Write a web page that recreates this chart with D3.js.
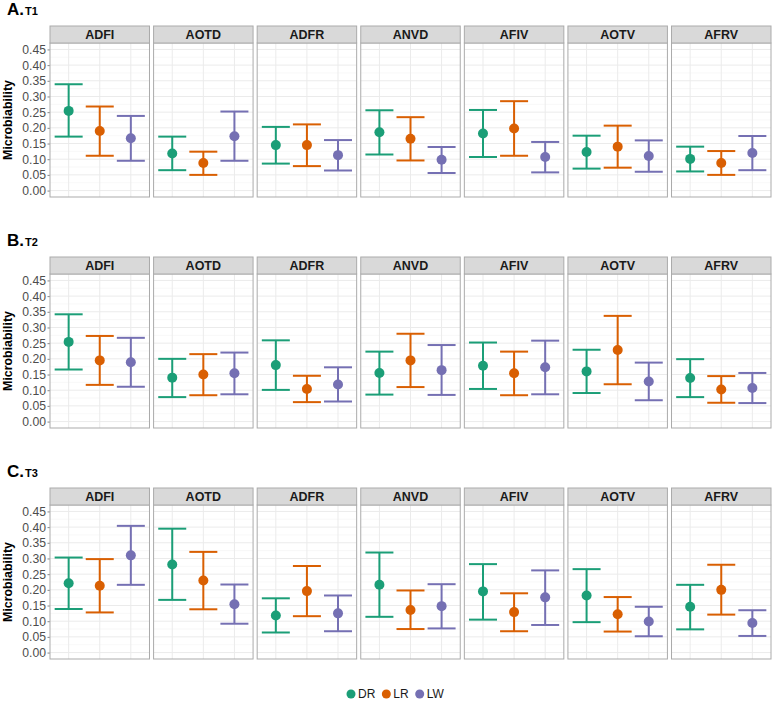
<!DOCTYPE html>
<html>
<head>
<meta charset="utf-8">
<script src="https://cdn.jsdelivr.net/npm/d3@7"></script>
<style>
  html, body { margin: 0; padding: 0; background: #fff; }
  svg { display: block; font-family: "Liberation Sans", Arial, Helvetica, sans-serif; }
</style>
</head>
<body>
<svg id="chart" width="777" height="706"></svg>
<script>
// ---------------- DATA ----------------
const traits = ["ADFI", "AOTD", "ADFR", "ANVD", "AFIV", "AOTV", "AFRV"];
const groups = ["DR", "LR", "LW"];
const timeLabels = ["A.", "B.", "C."];
const timeNames = ["T1", "T2", "T3"];
const yTicks = [0.00, 0.05, 0.10, 0.15, 0.20, 0.25, 0.30, 0.35, 0.40, 0.45];
const groupColors = ["#1B9E77", "#D95F02", "#7570B3"];

// per trait: [DR, LR, LW]
const T1_mean  = [[0.254,0.190,0.167],[0.118,0.088,0.173],[0.145,0.145,0.113],[0.186,0.165,0.098],[0.182,0.198,0.107],[0.123,0.140,0.110],[0.101,0.088,0.120]];
const T1_lower = [[0.172,0.111,0.095],[0.065,0.050,0.095],[0.086,0.078,0.064],[0.115,0.096,0.056],[0.107,0.111,0.058],[0.070,0.073,0.060],[0.061,0.050,0.065]];
const T1_upper = [[0.339,0.268,0.238],[0.172,0.124,0.252],[0.203,0.211,0.161],[0.256,0.234,0.139],[0.257,0.285,0.155],[0.175,0.207,0.160],[0.140,0.126,0.174]];

const T2_mean  = [[0.254,0.195,0.189],[0.140,0.150,0.154],[0.180,0.104,0.118],[0.155,0.195,0.164],[0.178,0.154,0.173],[0.160,0.228,0.128],[0.139,0.102,0.107]];
const T2_lower = [[0.166,0.117,0.111],[0.078,0.084,0.087],[0.101,0.062,0.064],[0.086,0.110,0.085],[0.104,0.084,0.087],[0.091,0.119,0.068],[0.078,0.060,0.059]];
const T2_upper = [[0.342,0.273,0.267],[0.200,0.215,0.220],[0.259,0.146,0.173],[0.223,0.280,0.244],[0.252,0.223,0.258],[0.229,0.337,0.188],[0.199,0.145,0.155]];

const T3_mean  = [[0.221,0.213,0.310],[0.281,0.230,0.154],[0.118,0.196,0.125],[0.216,0.136,0.148],[0.195,0.129,0.176],[0.182,0.122,0.099],[0.146,0.200,0.094]];
const T3_lower = [[0.139,0.128,0.216],[0.168,0.138,0.092],[0.064,0.116,0.068],[0.114,0.075,0.077],[0.105,0.068,0.088],[0.097,0.067,0.052],[0.074,0.121,0.053]];
const T3_upper = [[0.303,0.298,0.404],[0.395,0.321,0.217],[0.173,0.276,0.182],[0.319,0.198,0.218],[0.282,0.189,0.262],[0.266,0.177,0.146],[0.216,0.280,0.135]];

const means  = [T1_mean, T2_mean, T3_mean];
const lowers = [T1_lower, T2_lower, T3_lower];
const uppers = [T1_upper, T2_upper, T3_upper];

// ---------------- LAYOUT ----------------
const svg = d3.select("#chart");
const left = 50, right = 771, gap = 4.1;
const nP = traits.length;
const pw = (right - left - gap * (nP - 1)) / nP;
const stripH = 17, panelH = 154;
const rowTop0 = 26, rowStep = 231;

// ggplot discrete expand: positions at 0.6,1.6,2.6 on a [0,3.2] axis
const x = d3.scalePoint().domain(groups).range([0, pw]).padding(0.6);
const capW = 28;

const borderCol = "#ababab";

for (let r = 0; r < 3; r++) {
  const stripTop = rowTop0 + r * rowStep;
  const pTop = stripTop + stripH;
  const pBot = pTop + panelH;
  const y = d3.scaleLinear().domain([-0.0205, 0.4705]).range([pBot, pTop]);

  // title
  const t = svg.append("text")
    .attr("x", 7).attr("y", stripTop - 11)
    .attr("font-weight", "bold").attr("fill", "#000");
  t.append("tspan").attr("font-size", 17).text(timeLabels[r]);
  t.append("tspan").attr("font-size", 11).attr("dx", 1).text(timeNames[r]);

  // y axis label
  svg.append("text")
    .attr("transform", `translate(${11.5},${(pTop + pBot) / 2}) rotate(-90)`)
    .attr("text-anchor", "middle")
    .attr("font-size", 12.4).attr("font-weight", "bold").attr("fill", "#000")
    .text("Microbiability");

  // y axis ticks
  const yAxis = d3.axisLeft(y).tickValues(yTicks).tickFormat(d3.format(".2f")).tickSize(2.5).tickPadding(1.5);
  const ga = svg.append("g").attr("transform", `translate(${left},0)`).call(yAxis);
  ga.select(".domain").remove();
  ga.selectAll(".tick line").attr("stroke", "#333").attr("stroke-width", 0.6);
  ga.selectAll(".tick text").attr("fill", "#4d4d4d").attr("font-size", 12.2)
    .attr("font-family", "'Liberation Sans', Arial, sans-serif");

  traits.forEach((tr, i) => {
    const px = left + i * (pw + gap);
    const g = svg.append("g").attr("transform", `translate(${px},0)`);

    // panel background
    g.append("rect").attr("x", 0).attr("y", pTop).attr("width", pw).attr("height", panelH).attr("fill", "#fff");

    // minor grid
    const minor = d3.range(0.025, 0.47, 0.05);
    g.selectAll(".minor").data(minor).join("line")
      .attr("x1", 0).attr("x2", pw)
      .attr("y1", d => y(d)).attr("y2", d => y(d))
      .attr("stroke", "#f4f4f4").attr("stroke-width", 0.6);
    // major grid
    g.selectAll(".major").data(yTicks).join("line")
      .attr("x1", 0).attr("x2", pw)
      .attr("y1", d => y(d)).attr("y2", d => y(d))
      .attr("stroke", "#ebebeb").attr("stroke-width", 1);
    g.selectAll(".vmajor").data(groups).join("line")
      .attr("x1", d => x(d)).attr("x2", d => x(d))
      .attr("y1", pTop).attr("y2", pBot)
      .attr("stroke", "#ebebeb").attr("stroke-width", 1);

    // error bars
    groups.forEach((gr, k) => {
      const cx = x(gr);
      const col = groupColors[k];
      const lo = lowers[r][i][k], hi = uppers[r][i][k], m = means[r][i][k];
      g.append("line").attr("x1", cx).attr("x2", cx).attr("y1", y(lo)).attr("y2", y(hi))
        .attr("stroke", col).attr("stroke-width", 2);
      g.append("line").attr("x1", cx - capW / 2).attr("x2", cx + capW / 2).attr("y1", y(lo)).attr("y2", y(lo))
        .attr("stroke", col).attr("stroke-width", 2);
      g.append("line").attr("x1", cx - capW / 2).attr("x2", cx + capW / 2).attr("y1", y(hi)).attr("y2", y(hi))
        .attr("stroke", col).attr("stroke-width", 2);
      g.append("circle").attr("cx", cx).attr("cy", y(m)).attr("r", 5).attr("fill", col);
    });

    // panel border
    g.append("rect").attr("x", 0).attr("y", pTop).attr("width", pw).attr("height", panelH)
      .attr("fill", "none").attr("stroke", borderCol).attr("stroke-width", 1);

    // strip
    g.append("rect").attr("x", 0).attr("y", stripTop).attr("width", pw).attr("height", stripH)
      .attr("fill", "#d9d9d9").attr("stroke", borderCol).attr("stroke-width", 1);
    g.append("text").attr("x", pw / 2).attr("y", stripTop + stripH / 2 + 4.5)
      .attr("text-anchor", "middle").attr("font-size", 12.5).attr("font-weight", "bold")
      .attr("fill", "#1a1a1a").text(tr);
  });
}

// ---------------- LEGEND ----------------
const legY = 694;
const leg = svg.append("g");
let lx = 351;
groups.forEach((gr, k) => {
  leg.append("circle").attr("cx", lx).attr("cy", legY).attr("r", 4.5).attr("fill", groupColors[k]);
  const tx = leg.append("text").attr("x", lx + 7).attr("y", legY + 4.3)
    .attr("font-size", 12).attr("fill", "#1a1a1a").text(gr);
  const w = tx.node().getComputedTextLength();
  lx += 7 + w + 11;
});
</script>
</body>
</html>
